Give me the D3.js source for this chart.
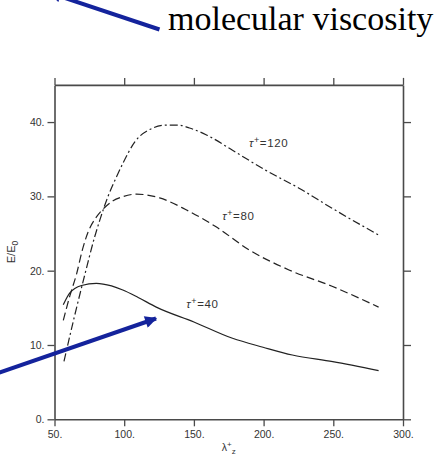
<!DOCTYPE html>
<html><head><meta charset="utf-8">
<script src="https://cdn.jsdelivr.net/npm/d3@7"></script>
<style>body{margin:0;background:#fff}svg{display:block}</style>
</head><body>
<script>
// ---- data ----
const xTicks = [50, 100, 150, 200, 250, 300];
const yTicks = [0, 10, 20, 30, 40];
const tau40X = [56.3, 61, 69.4, 80, 90.9, 99, 110, 123, 150, 177.7, 199.6, 220.6, 249.6, 282.5];
const tau40Y = [15.4, 17.0, 18.0, 18.3, 17.95, 17.4, 16.4, 15.1, 13.1, 10.9, 9.7, 8.65, 7.75, 6.55];
const tau80X = [56.3, 61, 65.9, 70, 74.1, 80, 86, 92, 98, 108.7, 125.4, 144.4, 165.9, 189.6, 218.2, 249.1, 282.5];
const tau80Y = [13.3, 16.6, 19.6, 22.8, 25.2, 27.2, 28.5, 29.4, 29.9, 30.3, 29.8, 28.2, 25.9, 22.8, 20.1, 17.9, 15.1];
const tau120X = [56.8, 64, 71.8, 78.9, 82.5, 88.4, 94.4, 99.2, 107.5, 120.6, 130, 138.4, 146.8, 158.7, 177.7, 201.6, 225.4, 249.1, 282.5];
const tau120Y = [7.8, 13.6, 19.5, 24.6, 26.8, 30.0, 32.6, 34.5, 37.3, 39.2, 39.6, 39.6, 39.2, 38.3, 36.2, 33.5, 31.1, 28.4, 24.8];
const seriesNames = ["40", "80", "120"];
const labelPos = [[144.6, 15.0], [170.4, 26.8], [189.6, 36.6]];

// ---- layout ----
const W = 442, H = 457;
const svg = d3.select("body").append("svg").attr("width", W).attr("height", H);
const x = d3.scaleLinear().domain([50, 300]).range([54.5, 403]);
const y = d3.scaleLinear().domain([0, 45]).range([419.3, 84.9]);
const frameCol = "#4a4a4a";
const fnt = "'Liberation Sans', Arial, sans-serif";

function styleAxis(g) {
  g.selectAll("path.domain").attr("stroke", frameCol).attr("stroke-width", 1.6);
  g.selectAll(".tick line").attr("stroke", frameCol).attr("stroke-width", 1.3);
  g.selectAll("text").attr("font-family", fnt).attr("font-size", 10.5).attr("fill", "#333");
}
const fmt = d => d + ".";
svg.append("g").attr("transform", `translate(0,${y(0)})`)
  .call(d3.axisBottom(x).tickValues(xTicks).tickFormat(fmt).tickSize(7).tickSizeOuter(0).tickPadding(4))
  .call(styleAxis);
svg.append("g").attr("transform", `translate(0,${y(45)})`)
  .call(d3.axisTop(x).tickValues(xTicks).tickFormat("").tickSize(7).tickSizeOuter(0))
  .call(styleAxis);
svg.append("g").attr("transform", `translate(${x(50)},0)`)
  .call(d3.axisLeft(y).tickValues(yTicks).tickFormat(fmt).tickSize(7).tickSizeOuter(0).tickPadding(3))
  .call(styleAxis);
svg.append("g").attr("transform", `translate(${x(300)},0)`)
  .call(d3.axisRight(y).tickValues(yTicks).tickFormat("").tickSize(8).tickSizeOuter(0))
  .call(styleAxis);

// axis titles
const xl = svg.append("text").attr("x", x(175)).attr("y", 451).attr("text-anchor", "middle")
  .attr("font-family", fnt).attr("font-size", 10.5).attr("fill", "#333");
xl.append("tspan").text("λ");
xl.append("tspan").attr("dy", -4).attr("font-size", 8).text("+");
xl.append("tspan").attr("dy", 7).attr("font-size", 8).text("z");
const yl = svg.append("text").attr("transform", `translate(15,252) rotate(-90)`).attr("text-anchor", "middle")
  .attr("font-family", fnt).attr("font-size", 11).attr("fill", "#333");
yl.append("tspan").text("E/E");
yl.append("tspan").attr("dy", 3).attr("font-size", 8.5).text("0");

// curves
const line = d3.line().x(d => x(d[0])).y(d => y(d[1])).curve(d3.curveMonotoneX);
const series = [
  {xs: tau40X, ys: tau40Y, dash: null},
  {xs: tau80X, ys: tau80Y, dash: "8,4"},
  {xs: tau120X, ys: tau120Y, dash: "8,3,2,3"}
];
series.forEach((s, i) => {
  const pts = s.xs.map((v, j) => [v, s.ys[j]]);
  svg.append("path").attr("d", line(pts)).attr("fill", "none")
    .attr("stroke", "#222").attr("stroke-width", 1.2)
    .attr("stroke-dasharray", s.dash);
  const t = svg.append("text").attr("x", x(labelPos[i][0])).attr("y", y(labelPos[i][1]))
    .attr("font-family", fnt).attr("font-size", 11.5).attr("letter-spacing", 0.6).attr("fill", "#333");
  t.append("tspan").attr("font-style", "italic").text("τ");
  t.append("tspan").attr("dy", -4).attr("font-size", 9).text("+");
  t.append("tspan").attr("dy", 4).text("=" + seriesNames[i]);
});

// annotation
const blue = "#14239c";
svg.append("defs").append("marker").attr("id", "ah").attr("viewBox", "0 0 10 10")
  .attr("refX", 9).attr("refY", 5).attr("markerWidth", 3.6).attr("markerHeight", 3)
  .attr("markerUnits", "strokeWidth").attr("orient", "auto")
  .append("path").attr("d", "M0,0L10,5L0,10z").attr("fill", blue);
svg.append("line").attr("x1", 159.5).attr("y1", 29.5).attr("x2", 50).attr("y2", -7)
  .attr("stroke", blue).attr("stroke-width", 4).attr("marker-end", "url(#ah)");
svg.append("line").attr("x1", -2).attr("y1", 373).attr("x2", 156).attr("y2", 318.5)
  .attr("stroke", blue).attr("stroke-width", 4).attr("marker-end", "url(#ah)");
svg.append("text").attr("x", 168).attr("y", 30).attr("font-family", "'Liberation Serif', 'Times New Roman', serif")
  .attr("font-size", 34).attr("fill", "#000").text("molecular viscosity");
</script>
</body></html>
